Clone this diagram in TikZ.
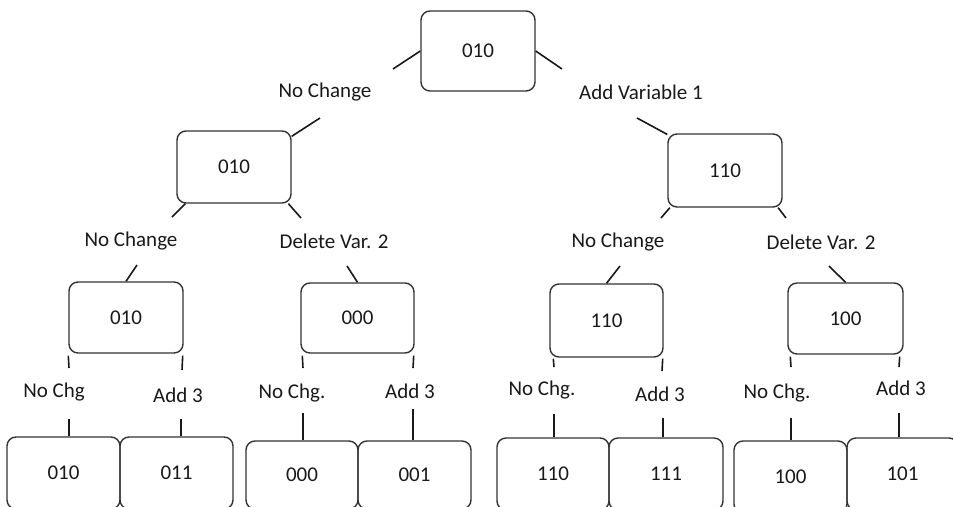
\documentclass[tikz,border=0pt]{standalone}
\usepackage{fontspec}
\setmainfont{Carlito}
\begin{document}
\begin{tikzpicture}[x=1pt,y=-1pt,
  box/.style={draw=black!80, line width=1.4pt, rounded corners=9pt, inner sep=0pt,
    font=\fontsize{21}{25}\selectfont, text=black!90},
  lab/.style={inner sep=0pt, font=\fontsize{21}{25}\selectfont, text=black!90},
  conn/.style={line width=1.6pt, black!90}]
\useasboundingbox (0,0) rectangle (953,506);
\clip (0,0) rectangle (953,506);
% level 0
\node[box, minimum width=114pt, minimum height=80pt] (root) at (478,51) {010};
% level 1
\node[box, minimum width=114pt, minimum height=72pt] (L) at (234,167) {010};
\node[box, minimum width=114pt, minimum height=73pt] (R) at (725,170.5) {110};
% level 2
\node[box, minimum width=114pt, minimum height=71pt] (LL) at (126,317.5) {010};
\node[box, minimum width=113pt, minimum height=70pt] (LR) at (357.5,318) {000};
\node[box, minimum width=113pt, minimum height=73pt] (RL) at (606.5,320.5) {110};
\node[box, minimum width=115pt, minimum height=71pt] (RR) at (845.5,318.5) {100};
% level 3
\node[box, minimum width=113pt, minimum height=72pt] (b1) at (63.5,473) {010};
\node[box, minimum width=113pt, minimum height=72pt] (b2) at (176.5,473) {011};
\node[box, minimum width=112pt, minimum height=68pt] (b3) at (302,475) {000};
\node[box, minimum width=113pt, minimum height=68pt] (b4) at (414.5,475) {001};
\node[box, minimum width=112pt, minimum height=72pt] (b5) at (553,474) {110};
\node[box, minimum width=114pt, minimum height=72pt] (b6) at (666,474) {111};
\node[box, minimum width=113pt, minimum height=72pt] (b7) at (790.5,477) {100};
\node[box, minimum width=111pt, minimum height=72pt] (b8) at (902.5,474) {101};
% labels
\node[lab] (l1) at (325,92) {No Change};
\node[lab] (l2) at (641,92) {Add Variable 1};
\node[lab] (l3) at (131,241) {No Change};
\node[lab] (l4) at (334,241) {Delete Var. 2};
\node[lab] (l5) at (618,242) {No Change};
\node[lab] (l6) at (821,242) {Delete Var. 2};
\node[lab] (l7) at (54,392) {No Chg};
\node[lab] (l8) at (178,395) {Add 3};
\node[lab] (l9) at (292,393) {No Chg.};
\node[lab] (l10) at (410,391) {Add 3};
\node[lab] (l11) at (542,390) {No Chg.};
\node[lab] (l12) at (660,394) {Add 3};
\node[lab] (l13) at (777,393) {No Chg.};
\node[lab] (l14) at (901,388) {Add 3};
% free ends
\coordinate (a1) at (393,69);
\coordinate (a2) at (562,69);
\coordinate (a3) at (320,118);
\coordinate (a4) at (637,118);
\coordinate (a5) at (172,217);
\coordinate (a6) at (301,218);
\coordinate (a7) at (661,218);
\coordinate (a8) at (786,218);
\coordinate (a9) at (137,265);
\coordinate (a10) at (347,266);
\coordinate (a11) at (620,266);
\coordinate (a12) at (829,266);
% level 0 -> 1
\draw[conn] (root.west) -- (a1);
\draw[conn] (root.east) -- (a2);
\draw[conn] (a3) -- (L.28);
\draw[conn] (a4) -- (R.148);
% level 1 -> 2
\draw[conn] (L.217) -- (a5);
\draw[conn] (L.326) -- (a6);
\draw[conn] (R.214) -- (a7);
\draw[conn] (R.325) -- (a8);
\draw[conn] (a9) -- (LL.north);
\draw[conn] (a10) -- (LR.north);
\draw[conn] (a11) -- (RL.north);
\draw[conn] (a12) -- (RR.north);
% level 2 -> 3 ticks
\coordinate (t1) at (69,368);   \coordinate (u1) at (69,419);
\coordinate (t2) at (182,370);  \coordinate (u2) at (181,419);
\coordinate (t3) at (303,368);  \coordinate (u3) at (303,413);
\coordinate (t4) at (413,368);  \coordinate (u4) at (413,409);
\coordinate (t5) at (554,367);  \coordinate (u5) at (554,414);
\coordinate (t6) at (662,371);  \coordinate (u6) at (663,418);
\coordinate (t7) at (791,367);  \coordinate (u7) at (791,418);
\coordinate (t8) at (899,367);  \coordinate (u8) at (899,413);
\draw[conn] (LL.south west) ++(0,2) -- (t1);
\draw[conn] (LL.south east) ++(-1,2) -- (t2);
\draw[conn] (LR.south west) ++(2,2) -- (t3);
\draw[conn] (LR.south east) ++(-1,2) -- (t4);
\draw[conn] (RL.south west) ++(4,1) -- (t5);
\draw[conn] (RL.south east) ++(-1,1) -- (t6);
\draw[conn] (RR.south west) ++(3,2) -- (t7);
\draw[conn] (RR.south east) ++(-4,2) -- (t8);
\draw[conn] (u1) -- (u1 |- b1.north);
\draw[conn] (u2) -- (u2 |- b2.north);
\draw[conn] (u3) -- (u3 |- b3.north);
\draw[conn] (u4) -- (u4 |- b4.north);
\draw[conn] (u5) -- (u5 |- b5.north);
\draw[conn] (u6) -- (u6 |- b6.north);
\draw[conn] (u7) -- (u7 |- b7.north);
\draw[conn] (u8) -- (u8 |- b8.north);
\end{tikzpicture}
\end{document}
